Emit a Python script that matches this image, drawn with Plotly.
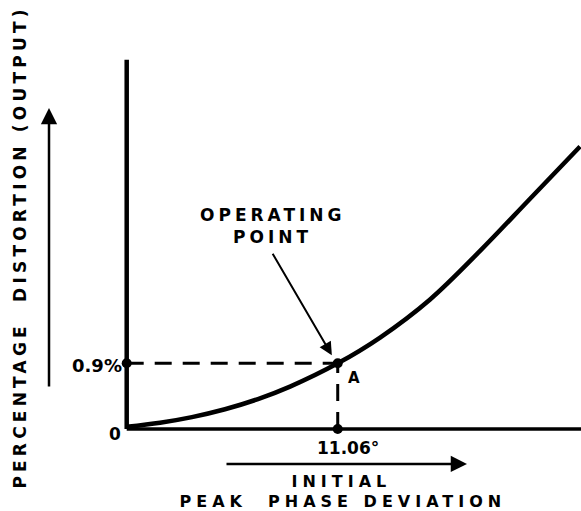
import json
import plotly.graph_objects as go

# Distortion characteristic: initial peak phase deviation (degrees) vs. output distortion (%)
deviation_deg = [0.0, 1.75, 3.42, 5.15, 6.88, 8.56, 11.06, 13.28, 15.90, 18.52, 21.14, 23.76]
distortion_pct = [0.03, 0.086, 0.163, 0.270, 0.410, 0.581, 0.90, 1.253, 1.775, 2.44, 3.155, 3.870]

# Operating point A
op_deviation = 11.06
op_distortion = 0.9
op_labels = ["11.06°", "0.9%"]

# Lettering
y_title = "PERCENTAGE\u00a0\u00a0DISTORTION\u00a0(OUTPUT)"
x_title_top = "INITIAL"
x_title_bottom = "PEAK\u00a0\u00a0PHASE\u00a0DEVIATION"
callout = ["OPERATING", "POINT"]

X_RANGE = [-0.351, 23.81]
Y_RANGE = [-0.0959, 5.192]
Y_AXIS_TOP = 5.06

BOLD = dict(family="DejaVu Sans", color="black", weight="bold")

fig = go.Figure()

# Main curve
fig.add_trace(go.Scatter(
    x=deviation_deg, y=distortion_pct, mode="lines",
    line=dict(color="black", width=4.5, shape="spline", smoothing=1.0),
    hoverinfo="skip", showlegend=False,
))

# Dashed projections from the operating point to both axes
fig.add_trace(go.Scatter(
    x=[0, op_deviation], y=[op_distortion, op_distortion], mode="lines",
    line=dict(color="black", width=3, dash="17px,11px"),
    hoverinfo="skip", showlegend=False,
))
fig.add_trace(go.Scatter(
    x=[op_deviation, op_deviation], y=[0, op_distortion], mode="lines",
    line=dict(color="black", width=3, dash="17px,11px"),
    hoverinfo="skip", showlegend=False,
))

# Axis lines
fig.add_shape(type="line", x0=0, y0=0, x1=0, y1=Y_AXIS_TOP, line=dict(color="black", width=4.5))
fig.add_shape(type="line", x0=0, y0=0, x1=30, y1=0, line=dict(color="black", width=3.5))

# Dots at the operating point and its axis projections
fig.add_trace(go.Scatter(
    x=[0, op_deviation, op_deviation], y=[op_distortion, 0, op_distortion], mode="markers",
    marker=dict(color="black", size=10), cliponaxis=False,
    hoverinfo="skip", showlegend=False,
))

# Axis value labels
fig.add_annotation(x=0, y=op_distortion, text=op_labels[1], showarrow=False,
                   xanchor="right", xshift=-3, yshift=-2, font=dict(size=18, **BOLD))
fig.add_annotation(x=0, y=0, text="0", showarrow=False,
                   xanchor="right", xshift=-4, yshift=-5, font=dict(size=17, **BOLD))
fig.add_annotation(x=op_deviation, y=0, text=op_labels[0], showarrow=False,
                   yanchor="top", yshift=-7, xshift=10, font=dict(size=17, **BOLD))
fig.add_annotation(x=op_deviation, y=op_distortion, text="A", showarrow=False,
                   xanchor="left", yanchor="top", xshift=8, yshift=-4, font=dict(size=15, **BOLD))

# Operating point callout
fig.add_annotation(x=7.65, y=2.93, text=callout[0], showarrow=False, font=dict(size=17, **BOLD))
fig.add_annotation(x=7.65, y=2.63, text=callout[1], showarrow=False, font=dict(size=17, **BOLD))
fig.add_annotation(x=10.75, y=1.01, ax=-60, ay=-103, text="", showarrow=True,
                   arrowhead=2, arrowsize=1.3, arrowwidth=2, arrowcolor="black")

# Direction arrows for the axis quantities (placed in the margins, paper coordinates)
fig.add_annotation(xref="paper", yref="paper", x=0.7527, y=-0.0725, ax=-242, ay=0, text="",
                   showarrow=True, arrowhead=2, arrowsize=1.3, arrowwidth=2.5, arrowcolor="black")
fig.add_annotation(xref="paper", yref="paper", x=-0.154, y=0.8497, ax=0, ay=280, text="",
                   showarrow=True, arrowhead=2, arrowsize=1.3, arrowwidth=2.5, arrowcolor="black")

# Axis titles
fig.add_annotation(xref="paper", yref="paper", x=0.4815, y=-0.1166, text=x_title_top,
                   xanchor="center", yanchor="middle", showarrow=False, font=dict(size=16, **BOLD))
fig.add_annotation(xref="paper", yref="paper", x=0.4845, y=-0.1684, text=x_title_bottom,
                   xanchor="center", yanchor="middle", showarrow=False, font=dict(size=16, **BOLD))
fig.add_annotation(xref="paper", yref="paper", x=-0.2169, y=0.4883, text=y_title,
                   xanchor="center", yanchor="middle", textangle=-90, showarrow=False,
                   font=dict(size=17, **BOLD))

fig.update_xaxes(range=X_RANGE, visible=False, fixedrange=True)
fig.update_yaxes(range=Y_RANGE, visible=False, fixedrange=True)
fig.update_layout(
    width=581, height=511,
    margin=dict(l=120, r=0, t=50, b=75),
    paper_bgcolor="white", plot_bgcolor="white",
    showlegend=False,
)

# Wide stencil-style letter spacing for the lettered labels
letter_spacing = {
    y_title: 4.2,
    x_title_top: 5,
    x_title_bottom: 5,
    callout[0]: 4,
    callout[1]: 4,
}
spacing_js = """
var gd = document.getElementById('{plot_id}');
var spacing = %s;
gd.querySelectorAll('text.annotation-text').forEach(function (t) {
    var s = spacing[t.textContent];
    if (s !== undefined) { t.setAttribute('letter-spacing', s + 'px'); }
});
""" % json.dumps(letter_spacing)

fig.write_html("out.html", config={"displayModeBar": False}, post_script=spacing_js)
